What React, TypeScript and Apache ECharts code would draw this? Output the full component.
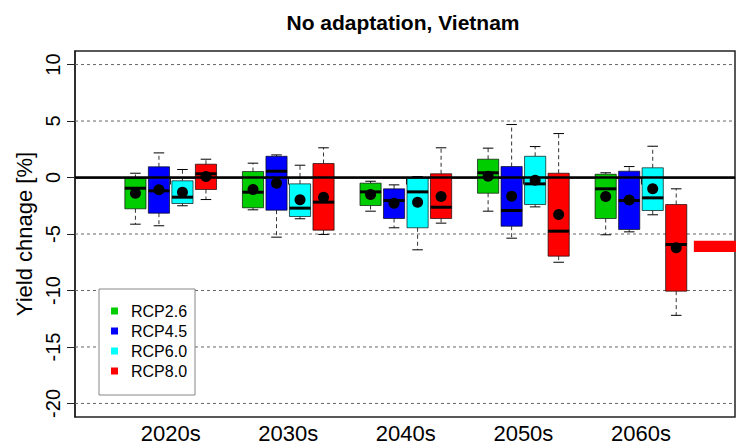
import React, { useEffect, useRef } from "react";
import * as echarts from "echarts";

const periods = ["2020s", "2030s", "2040s", "2050s", "2060s"];
const scenarios = ["RCP2.6", "RCP4.5", "RCP6.0", "RCP8.0"];
const scenarioColors = ["#00cd00", "#0000ff", "#00ffff", "#ff0000"];

// [lower whisker, Q1, median, Q3, upper whisker] per period
const rcp26Stats = [
  [-4.13, -2.77, -0.95, -0.09, 0.38],
  [-2.86, -2.68, -1.3, 0.53, 1.27],
  [-2.98, -2.48, -1.27, -0.5, -0.33],
  [-2.98, -1.39, 0.42, 1.62, 2.6],
  [-5.07, -3.63, -1.0, 0.29, 0.42],
];
const rcp45Stats = [
  [-4.27, -3.16, -1.18, 0.95, 2.18],
  [-5.28, -2.89, 0.56, 1.88, 2.0],
  [-4.45, -3.63, -2.04, -1.0, -0.65],
  [-5.37, -4.31, -2.92, 0.97, 4.69],
  [-4.81, -4.6, -2.04, 0.56, 0.97],
];
const rcp60Stats = [
  [-2.5, -2.3, -1.74, -0.29, 0.71],
  [-3.65, -3.45, -2.71, -0.56, 1.09],
  [-6.4, -4.45, -1.27, -0.06, 0.09],
  [-2.6, -2.39, -0.56, 1.88, 2.74],
  [-3.3, -2.92, -1.8, 0.86, 2.77],
];
const rcp80Stats = [
  [-1.95, -1.06, 0.33, 1.18, 1.62],
  [-5.04, -4.66, -2.18, 1.24, 2.63],
  [-4.04, -3.63, -2.63, 0.33, 2.63],
  [-7.5, -6.96, -4.75, 0.38, 3.89],
  [-12.2, -10.06, -5.93, -2.39, -1.0],
];
// means per period
const rcp26Means = [-1.39, -1.06, -1.5, 0.12, -1.68];
const rcp45Means = [-1.09, -0.5, -2.27, -1.65, -2.0];
const rcp60Means = [-1.3, -1.97, -2.18, -0.24, -1.0];
const rcp80Means = [0.09, -1.74, -1.68, -3.27, -6.22];

// red reference band at the right edge [start x, low, high]
const referenceBand = [5.45, -6.6, -5.6];

const yTicks = [-20, -15, -10, -5, 0, 5, 10];
const dashedLines = [-20, -15, -10, -5, 5, 10];
const zeroLine = [0];

const allStats = [rcp26Stats, rcp45Stats, rcp60Stats, rcp80Stats];
const allMeans = [rcp26Means, rcp45Means, rcp60Means, rcp80Means];
const groupOffsets = [-0.3, -0.1, 0.1, 0.3];
const BOX_W = 0.18;
const FONT = "'Liberation Sans', Arial, Helvetica, sans-serif";

export default function App() {
  const ref = useRef<HTMLDivElement>(null);

  useEffect(() => {
    if (!ref.current) return;
    const chart = echarts.init(ref.current, undefined, { renderer: "svg" });

    const boxSeries = scenarios.map((name, s) => ({
      name,
      type: "custom",
      z: 5,
      itemStyle: { color: scenarioColors[s] },
      data: periods.map((_, i) => [
        i + 1 + groupOffsets[s],
        ...allStats[s][i],
        allMeans[s][i],
      ]),
      renderItem: (params: any, api: any) => {
        const x = api.value(0);
        const lo = api.coord([x, api.value(1)]);
        const q1 = api.coord([x, api.value(2)]);
        const md = api.coord([x, api.value(3)]);
        const q3 = api.coord([x, api.value(4)]);
        const hi = api.coord([x, api.value(5)]);
        const mn = api.coord([x, api.value(6)]);
        const w = api.size([BOX_W, 0])[0];
        const cx = lo[0];
        const hw = w / 2;
        const cap = w / 4;
        const black = "#000";
        return {
          type: "group",
          children: [
            {
              type: "line",
              shape: { x1: cx, y1: q3[1], x2: cx, y2: hi[1] },
              style: { stroke: "#333", lineWidth: 1, lineDash: [4, 3] },
            },
            {
              type: "line",
              shape: { x1: cx, y1: q1[1], x2: cx, y2: lo[1] },
              style: { stroke: "#333", lineWidth: 1, lineDash: [4, 3] },
            },
            {
              type: "line",
              shape: { x1: cx - cap, y1: hi[1], x2: cx + cap, y2: hi[1] },
              style: { stroke: black, lineWidth: 1 },
            },
            {
              type: "line",
              shape: { x1: cx - cap, y1: lo[1], x2: cx + cap, y2: lo[1] },
              style: { stroke: black, lineWidth: 1 },
            },
            {
              type: "rect",
              shape: { x: cx - hw, y: q3[1], width: w, height: q1[1] - q3[1] },
              style: { fill: scenarioColors[s], stroke: "rgba(0,0,0,0.65)", lineWidth: 1 },
            },
            {
              type: "line",
              shape: { x1: cx - hw, y1: md[1], x2: cx + hw, y2: md[1] },
              style: { stroke: black, lineWidth: 3 },
            },
            {
              type: "circle",
              z2: 10,
              shape: { cx, cy: mn[1], r: 5.5 },
              style: { fill: black },
            },
          ],
        };
      },
    }));

    const option: any = {
      animation: false,
      backgroundColor: "#fff",
      title: {
        text: "No adaptation, Vietnam",
        left: 398,
        top: 7,
        textAlign: "center",
        textStyle: { fontFamily: FONT, fontSize: 21, fontWeight: "bold", color: "#000" },
      },
      grid: {
        left: 75,
        right: 1,
        top: 51,
        bottom: 29,
        show: true,
        borderColor: "#222",
        borderWidth: 1.5,
        backgroundColor: "transparent",
      },
      legend: {
        orient: "vertical",
        left: 99,
        top: 289,
        data: scenarios,
        selectedMode: false,
        icon: "rect",
        itemWidth: 7,
        itemHeight: 7,
        itemGap: 4,
        padding: [14, 8, 16, 12],
        borderColor: "#888",
        borderWidth: 1,
        backgroundColor: "#fff",
        textStyle: {
          fontFamily: FONT,
          fontSize: 16,
          color: "#000",
          padding: [0, 0, 0, 8],
        },
        z: 20,
      },
      xAxis: {
        type: "value",
        min: 0.186,
        max: 5.8,
        axisLine: { show: true, lineStyle: { color: "#222", width: 1.5 } },
        splitLine: { show: false },
        axisTick: {
          show: true,
          length: 7,
          customValues: periods.map((_, i) => i + 1),
          lineStyle: { color: "#222" },
        },
        axisLabel: {
          customValues: periods.map((_, i) => i + 1),
          formatter: (v: number) => periods[Math.round(v) - 1] ?? "",
          fontFamily: FONT,
          fontSize: 22,
          color: "#000",
          margin: 5,
        },
      },
      yAxis: {
        type: "value",
        min: -21.2,
        max: 11.2,
        name: "Yield chnage [%]",
        nameLocation: "middle",
        nameRotate: 90,
        nameGap: 38,
        nameTextStyle: { fontFamily: FONT, fontSize: 22, color: "#000" },
        axisLine: { show: true, lineStyle: { color: "#222", width: 1.5 } },
        splitLine: { show: false },
        axisTick: {
          show: true,
          length: 8,
          customValues: yTicks,
          lineStyle: { color: "#222" },
        },
        axisLabel: {
          customValues: yTicks,
          rotate: 90,
          fontFamily: FONT,
          fontSize: 20,
          color: "#000",
          margin: 12,
        },
      },
      series: [
        {
          type: "custom",
          name: "grid",
          z: 1,
          silent: true,
          data: dashedLines.map((v) => [v]),
          encode: { y: 0 },
          renderItem: (params: any, api: any) => {
            const cs = params.coordSys;
            const y = api.coord([1, api.value(0)])[1];
            return {
              type: "line",
              shape: { x1: cs.x, y1: y, x2: cs.x + cs.width, y2: y },
              style: { stroke: "#666", lineWidth: 1, lineDash: [3, 3] },
            };
          },
        },
        ...boxSeries,
        {
          type: "custom",
          name: "zero",
          z: 8,
          silent: true,
          data: zeroLine.map((v) => [v]),
          encode: { y: 0 },
          renderItem: (params: any, api: any) => {
            const cs = params.coordSys;
            const y = api.coord([1, api.value(0)])[1];
            return {
              type: "line",
              shape: { x1: cs.x, y1: y, x2: cs.x + cs.width, y2: y },
              style: { stroke: "#000", lineWidth: 2.5 },
            };
          },
        },
        {
          type: "custom",
          name: "reference",
          z: 6,
          silent: true,
          data: [referenceBand],
          encode: { x: 0, y: [1, 2] },
          renderItem: (params: any, api: any) => {
            const cs = params.coordSys;
            const a = api.coord([api.value(0), api.value(2)]);
            const b = api.coord([api.value(0), api.value(1)]);
            return {
              type: "rect",
              shape: { x: a[0], y: a[1], width: cs.x + cs.width + 2 - a[0], height: b[1] - a[1] },
              style: { fill: "#ff0000" },
            };
          },
        },
      ],
    };

    chart.setOption(option);
    return () => chart.dispose();
  }, []);

  return (
    <div
      ref={ref}
      style={{ position: "fixed", left: 0, top: 0, width: 736, height: 446, background: "#fff" }}
    />
  );
}
